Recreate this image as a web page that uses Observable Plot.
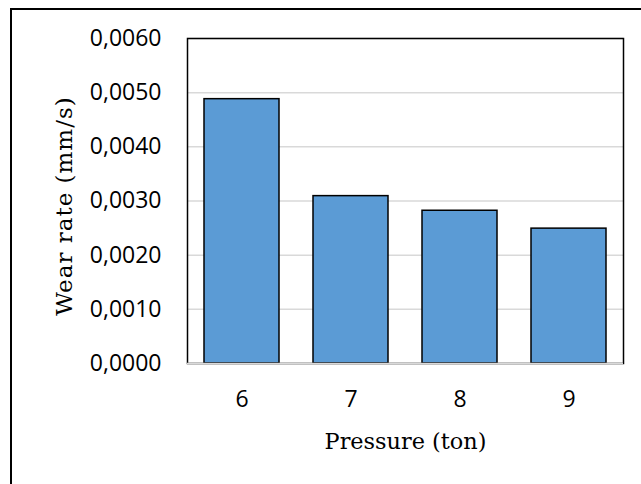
<!DOCTYPE html>
<html>
<head>
<meta charset="utf-8">
<script src="https://cdn.jsdelivr.net/npm/d3@7"></script>
<script src="https://cdn.jsdelivr.net/npm/@observablehq/plot@0.6"></script>
<style>
  html, body { margin: 0; padding: 0; background: #fff; }
  #wrap { position: relative; width: 641px; height: 484px; overflow: hidden; }
  #border { position: absolute; left: 10px; top: 8px; width: 700px; height: 600px;
            border-left: 2px solid #000; border-top: 2px solid #000; pointer-events: none; }
</style>
</head>
<body>
<div id="wrap"><div id="border"></div></div>
<script>
const pressures = ["6", "7", "8", "9"];
const wearRates = [0.00488, 0.00309, 0.00282, 0.00249];
const yTicks = [0, 0.001, 0.002, 0.003, 0.004, 0.005, 0.006];
const xTitle = "Pressure (ton)";
const yTitle = "Wear rate (mm/s)";

const data = pressures.map((p, i) => ({pressure: p, rate: wearRates[i]}));
const fmt = v => d3.format(".4f")(v).replace(".", ",");

const chart = Plot.plot({
  width: 641,
  height: 484,
  marginLeft: 187,
  marginRight: 18,
  marginTop: 38,
  marginBottom: 121,
  style: {fontFamily: "'Open Sans', sans-serif", fontSize: "22px", color: "#000", background: "transparent"},
  x: {domain: pressures, paddingInner: 0.31, paddingOuter: 0.155, label: null},
  y: {domain: [0, 0.006], label: null},
  marks: [
    Plot.gridY(yTicks, {stroke: "#d9d9d9", strokeOpacity: 1, strokeWidth: 1.5}),
    Plot.barY(data, {x: "pressure", y: "rate", fill: "#5b9bd5", stroke: "#000", strokeWidth: 1.5}),
    Plot.frame({stroke: "#000", strokeWidth: 1.5}),
    Plot.ruleY([0], {stroke: "#d9d9d9", strokeWidth: 1.5}),
    Plot.axisY(yTicks, {tickSize: 0, tickPadding: 26, tickFormat: fmt, fontSize: 23}),
    Plot.axisX(pressures, {tickSize: 0, tickPadding: 27, fontSize: 23, label: null}),
    Plot.text([xTitle], {frameAnchor: "bottom", dy: 78, lineAnchor: "middle", fontFamily: "'DejaVu Serif', serif", fontSize: 22.4, fill: "#000"}),
    Plot.text([yTitle], {frameAnchor: "left", dx: -123, dy: 5, rotate: -90, textAnchor: "middle", lineAnchor: "middle", fontFamily: "'DejaVu Serif', serif", fontSize: 23, fill: "#000"})
  ]
});
d3.select(chart).selectAll("text").filter(function() { return this.textContent === yTitle; })
  .style("letter-spacing", "1px");
document.getElementById("wrap").prepend(chart);
</script>
</body>
</html>
